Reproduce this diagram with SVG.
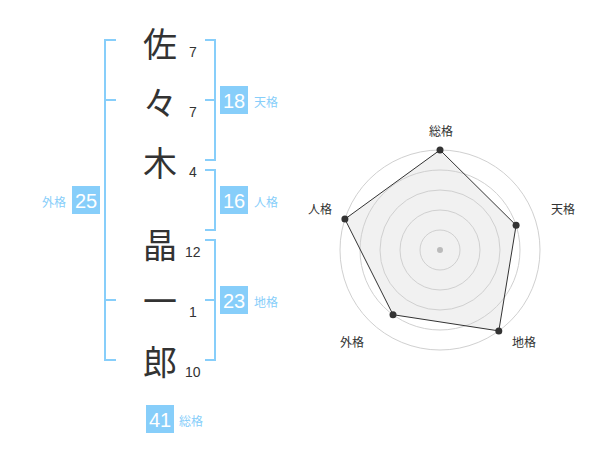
<svg xmlns="http://www.w3.org/2000/svg" width="600" height="470" viewBox="0 0 600 470">
<style>
.ch{font-family:"Noto Sans CJK JP","Noto Sans CJK SC",sans-serif;font-size:34px;fill:#333;text-anchor:middle;dominant-baseline:central}
.sn{font-family:"Liberation Sans",Arial,sans-serif;font-size:14px;fill:#333;dominant-baseline:central}
.br{fill:none;stroke:#87cefa;stroke-width:2}
.bx{fill:#87cefa}
.bn{font-family:"Liberation Sans",Arial,sans-serif;font-size:20px;fill:#fff;text-anchor:middle;dominant-baseline:central}
.lb{font-family:"Noto Sans CJK JP","Noto Sans CJK SC",sans-serif;font-size:12px;fill:#87cefa;dominant-baseline:central}
.ring{fill:none;stroke:#d0d0d0;stroke-width:1}
.rl{font-family:"Noto Sans CJK JP","Noto Sans CJK SC",sans-serif;font-size:12px;fill:#333;text-anchor:middle;dominant-baseline:central}
.pt{fill:#333}
</style>
<rect width="600" height="470" fill="#fff"/>
<g id="chars">
<text class="ch" x="160" y="42">佐</text>
<text class="ch" x="160" y="101">々</text>
<text class="ch" x="160" y="161">木</text>
<text class="ch" x="160" y="243">晶</text>
<text class="ch" x="160" y="299">一</text>
<text class="ch" x="160" y="360">郎</text>
</g>
<g id="strokes">
<text class="sn" x="189" y="52">7</text>
<text class="sn" x="189" y="112">7</text>
<text class="sn" x="189" y="172">4</text>
<text class="sn" x="185" y="252">12</text>
<text class="sn" x="189" y="312">1</text>
<text class="sn" x="185" y="372">10</text>
</g>
<g id="connectors">
<path class="br" d="M116,40 H105 V360 H116 M105,100 H116 M105,300 H116"/>
<path class="br" d="M205,40 H215 V160 H205 M205,100 H215"/>
<path class="br" d="M205,170 H215 V230 H205"/>
<path class="br" d="M205,240 H215 V360 H205 M205,300 H215"/>
</g>
<g id="tenkaku">
<rect class="bx" x="220" y="86" width="28" height="28"/>
<text class="bn" x="234" y="101">18</text>
<text class="lb" x="254" y="101">天格</text>
</g>
<g id="jinkaku">
<rect class="bx" x="220" y="186" width="28" height="28"/>
<text class="bn" x="234" y="201">16</text>
<text class="lb" x="254" y="201">人格</text>
</g>
<g id="gaikaku">
<rect class="bx" x="72" y="186" width="28" height="28"/>
<text class="bn" x="86" y="201">25</text>
<text class="lb" x="66" y="201" text-anchor="end">外格</text>
</g>
<g id="chikaku">
<rect class="bx" x="220" y="286" width="28" height="28"/>
<text class="bn" x="234" y="301">23</text>
<text class="lb" x="254" y="301">地格</text>
</g>
<g id="soukaku">
<rect class="bx" x="146" y="405" width="28" height="28"/>
<text class="bn" x="160" y="420">41</text>
<text class="lb" x="179" y="420">総格</text>
</g>
<g id="radar">
<polygon points="440,150 516.1,225.3 498.8,330.9 393,314.7 344.9,219.1" fill="#e8e8e8" fill-opacity="0.6"/>
<circle class="ring" cx="440" cy="250" r="20"/>
<circle class="ring" cx="440" cy="250" r="40"/>
<circle class="ring" cx="440" cy="250" r="60"/>
<circle class="ring" cx="440" cy="250" r="80"/>
<circle class="ring" cx="440" cy="250" r="100"/>
<circle cx="440" cy="250" r="3" fill="#bbb"/>
<polygon points="440,150 516.1,225.3 498.8,330.9 393,314.7 344.9,219.1" fill="none" stroke="#333" stroke-width="1"/>
<circle class="pt" cx="440" cy="150" r="3.5"/>
<circle class="pt" cx="516.1" cy="225.3" r="3.5"/>
<circle class="pt" cx="498.8" cy="330.9" r="3.5"/>
<circle class="pt" cx="393" cy="314.7" r="3.5"/>
<circle class="pt" cx="344.9" cy="219.1" r="3.5"/>
<text class="rl" x="441" y="130">総格</text>
<text class="rl" x="563" y="208">天格</text>
<text class="rl" x="524" y="341">地格</text>
<text class="rl" x="352" y="341">外格</text>
<text class="rl" x="320" y="208">人格</text>
</g>
</svg>
